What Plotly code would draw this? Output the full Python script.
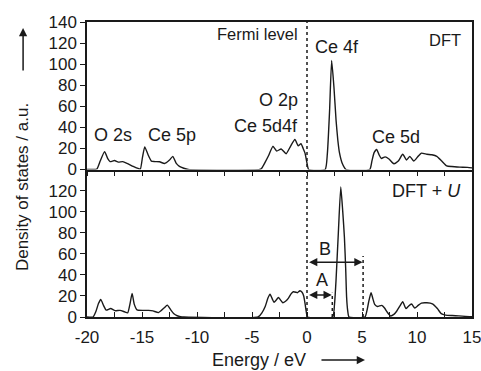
import plotly.graph_objects as go

# ---- data ----
dft_energy = [-20, -19.5, -19.1, -18.8, -18.4, -18.1, -17.9, -17.5, -17.15, -16.75, -16.3, -15.8,
              -15.35, -15.15, -14.95, -14.75, -14.45, -14.15, -13.85, -13.4, -12.95, -12.5, -12.2,
              -11.9, -11.6, -11.2, -10.8,
              -4.3, -4.1, -3.8, -3.5, -3.1, -2.75, -2.35, -1.9, -1.5, -1.1, -0.8, -0.55, -0.35,
              -0.18, 0.0, 0.15,
              1.65, 1.85, 2.05, 2.24, 2.45, 2.64, 2.8, 2.95, 3.2, 3.55,
              5.7, 5.9, 6.1, 6.33, 6.55, 6.75, 7.1, 7.45, 7.9, 8.3, 8.7, 9.05, 9.35, 9.7, 10.1,
              10.4, 10.9, 11.35, 11.8, 12.25, 12.7, 13.15, 13.9, 14.6, 15]
dft_dos = [0, 0, 0.5, 8, 17, 10, 7.5, 8.5, 7, 7.5, 5.5, 3,
           1, 0.5, 12, 21.5, 14, 8, 7.5, 7.3, 5.7, 9, 12.5,
           6, 3, 1.2, 0,
           0, 1.5, 7, 13, 22, 17.5, 19.5, 15, 22, 28.5, 22.5, 24.5, 20,
           15.5, 6, 0,
           0, 15, 55, 103.5, 78, 47, 28, 16, 6, 0,
           0, 8, 16, 19, 14, 10.5, 12, 10, 5.5, 8, 14.5, 9, 12.5, 8, 12.5,
           15.5, 14.5, 14, 12.5, 8, 3.5, 2.8, 2.3, 2, 1.5]

dftu_energy = [-20, -19.45, -19.2, -18.95, -18.75, -18.5, -18.25, -17.85, -17.45, -17.0, -16.6,
               -16.3, -16.1, -15.9, -15.7, -15.45, -14.9, -14.4, -14.0, -13.5, -13.0, -12.7,
               -12.4, -12.1, -11.8, -11.5, -11.2,
               -4.45, -4.1, -3.8, -3.55, -3.36, -3.15, -3.0, -2.8, -2.6, -2.4, -2.2, -1.95,
               -1.7, -1.45, -1.24, -1.0, -0.88, -0.64, -0.45, -0.3, -0.18, -0.05, 0.05,
               2.33, 2.5, 2.64, 2.85, 3.07, 3.25, 3.4, 3.52, 3.6, 3.7, 3.82,
               5.27, 5.45, 5.6, 5.82, 6.0, 6.15, 6.4, 6.8, 7.05, 7.3, 7.6, 7.9, 8.15, 8.45,
               8.7, 9.0, 9.2, 9.5, 9.8, 10.1, 10.4, 10.9, 11.4, 11.85, 12.2, 12.6, 13.2, 13.8,
               14.4, 15]
dftu_dos = [0, 0, 5, 13, 16.7, 11, 6.5, 8, 6, 6.3, 5,
            4, 12, 22.4, 12, 6.8, 6.3, 6.3, 5.8, 4.2, 8.5, 11.3,
            7, 3, 1.2, 0.3, 0,
            0, 4, 10, 18, 21.7, 17, 14, 16, 18.6, 16, 13.5, 15,
            17.7, 22, 24, 23.5, 23, 24.9, 23.5, 20, 13, 4, 0,
            0, 12, 35, 80, 123.5, 100, 76, 45, 19, 6, 0,
            0, 6, 14, 23, 17, 12, 10, 11, 8.5, 4.5, 1, 2.5, 5.5, 10.5,
            14.5, 8, 10, 12.3, 8.5, 11, 13.2, 13.5, 12.5, 8, 3.2, 1.8, 1.4, 1.1,
            0.6, 0.3]

x_tickvals = [-20, -15, -10, -5, 0, 5, 10, 15]
x_ticktext = ["-20", "-15", "-10", "-5", "0", "5", "10", "15"]
y_top_ticks = [0, 20, 40, 60, 80, 100, 120, 140]
y_bottom_ticks = [0, 20, 40, 60, 80, 100, 120]

fermi_level = 0.0
gap_A_end = 2.3
gap_B_end = 5.1

top_labels = ["O 2s", "Ce 5p", "O 2p", "Ce 5d4f", "Ce 4f", "Ce 5d"]
top_label_x = [-17.6, -12.3, -0.64, -0.64, 0.55, 8.1]
top_label_y = [33, 33, 66, 41.5, 116, 31]
top_label_anchor = ["center", "center", "right", "right", "left", "center"]

FONT = "Liberation Sans, Arial, sans-serif"
INK = "#1a1a1a"

fig = go.Figure()
fig.add_trace(go.Scatter(x=dft_energy, y=dft_dos, mode="lines", xaxis="x2", yaxis="y2",
                         line=dict(color=INK, width=1.4, shape="spline", smoothing=0.5),
                         showlegend=False, hoverinfo="skip"))
fig.add_trace(go.Scatter(x=dftu_energy, y=dftu_dos, mode="lines", xaxis="x", yaxis="y",
                         line=dict(color=INK, width=1.4, shape="spline", smoothing=0.5),
                         showlegend=False, hoverinfo="skip"))

ax_common = dict(showgrid=False, zeroline=False, showline=True, linecolor=INK, linewidth=1.5,
                 tickcolor=INK, tickwidth=1.2, tickfont=dict(size=17, color=INK, family=FONT))

fig.update_layout(
    width=481, height=371,
    margin=dict(l=87, r=9, t=22, b=54, autoexpand=False),
    paper_bgcolor="white", plot_bgcolor="white",
    font=dict(family=FONT, color=INK),
    xaxis=dict(**ax_common, domain=[0, 1], anchor="y", range=[-20, 15],
               tickmode="array", tickvals=x_tickvals, ticktext=x_ticktext,
               ticks="inside", ticklen=5, ticklabelstandoff=4, ticklabeloverflow="allow",
               minor=dict(dtick=2.5, tick0=-20, ticks="inside", ticklen=5,
                          tickcolor=INK, tickwidth=1.2, showgrid=False)),
    xaxis2=dict(**ax_common, domain=[0, 1], anchor="y2", range=[-20, 15], matches="x",
                tickmode="array", tickvals=x_tickvals, showticklabels=False,
                ticks="outside", ticklen=5, mirror=True,
                minor=dict(dtick=2.5, tick0=-20, ticks="outside", ticklen=5,
                           tickcolor=INK, tickwidth=1.2, showgrid=False)),
    yaxis=dict(**ax_common, domain=[0, 0.5], anchor="x", range=[0, 140],
               tickmode="array", tickvals=y_bottom_ticks, ticks="outside", ticklen=5,
               mirror=True, ticklabeloverflow="allow"),
    yaxis2=dict(**ax_common, domain=[0.5, 1], anchor="x2", range=[0, 140],
                tickmode="array", tickvals=y_top_ticks, ticks="outside", ticklen=5,
                mirror=True, ticklabeloverflow="allow"),
)

# dotted lines
fig.add_shape(type="line", xref="x", yref="paper", x0=fermi_level, x1=fermi_level, y0=0, y1=1,
              line=dict(color=INK, width=1.5, dash="dot"))
fig.add_shape(type="line", xref="x", yref="y", x0=gap_A_end, x1=gap_A_end, y0=0, y1=23,
              line=dict(color=INK, width=1.5, dash="dot"))
fig.add_shape(type="line", xref="x", yref="y", x0=gap_B_end, x1=gap_B_end, y0=0, y1=58,
              line=dict(color=INK, width=1.5, dash="dot"))

# double arrows A and B
for (x_end, yv) in [(gap_A_end - 0.05, 21), (gap_B_end - 0.05, 52)]:
    fig.add_annotation(x=x_end, y=yv, ax=fermi_level + 0.05, ay=yv, xref="x", yref="y",
                       axref="x", ayref="y", text="", showarrow=True, arrowside="end+start",
                       arrowhead=2, arrowsize=1.1, arrowwidth=1.5, arrowcolor=INK)
fig.add_annotation(x=1.36, y=35, xref="x", yref="y", text="A", showarrow=False,
                   font=dict(size=18, color=INK))
fig.add_annotation(x=1.64, y=65, xref="x", yref="y", text="B", showarrow=False,
                   font=dict(size=18, color=INK))

# top panel labels
for t, xv, yv, anc in zip(top_labels, top_label_x, top_label_y, top_label_anchor):
    fig.add_annotation(x=xv, y=yv, xref="x2", yref="y2", text=t, showarrow=False,
                       xanchor=anc, font=dict(size=18, color=INK))
fig.add_annotation(x=-0.64, y=128.7, xref="x2", yref="y2", text="Fermi level", showarrow=False,
                   xanchor="right", font=dict(size=16.5, color=INK))
fig.add_annotation(x=14.2, y=123, xref="x2", yref="y2", text="DFT", showarrow=False,
                   xanchor="right", font=dict(size=16.5, color=INK))
fig.add_annotation(x=14.2, y=120, xref="x", yref="y", text="DFT + <i>U</i>", showarrow=False,
                   xanchor="right", font=dict(size=18, color=INK))

# axis titles with arrows
fig.add_annotation(x=0.448, y=-0.146, xref="paper", yref="paper", text="Energy / eV",
                   xanchor="center", yanchor="middle",
                   showarrow=False, font=dict(size=18, color=INK))
fig.add_annotation(x=0.722, y=-0.146, xref="paper", yref="paper", text="", showarrow=True,
                   ax=-45, ay=0, arrowhead=2, arrowsize=1.1, arrowwidth=1.5, arrowcolor=INK)
fig.add_annotation(x=-0.166, y=0.4407, xref="paper", yref="paper",
                   text="Density of states / a.u.", textangle=-90, showarrow=False,
                   xanchor="center", yanchor="middle",
                   font=dict(size=17, color=INK))
fig.add_annotation(x=-0.166, y=0.98, xref="paper", yref="paper", text="", showarrow=True,
                   ax=0, ay=44, arrowhead=2, arrowsize=1.1, arrowwidth=1.5, arrowcolor=INK)

fig.write_html("out.html",
               config={"displayModeBar": False},
               post_script="document.body.style.margin='0px';document.body.style.overflow='hidden';")
